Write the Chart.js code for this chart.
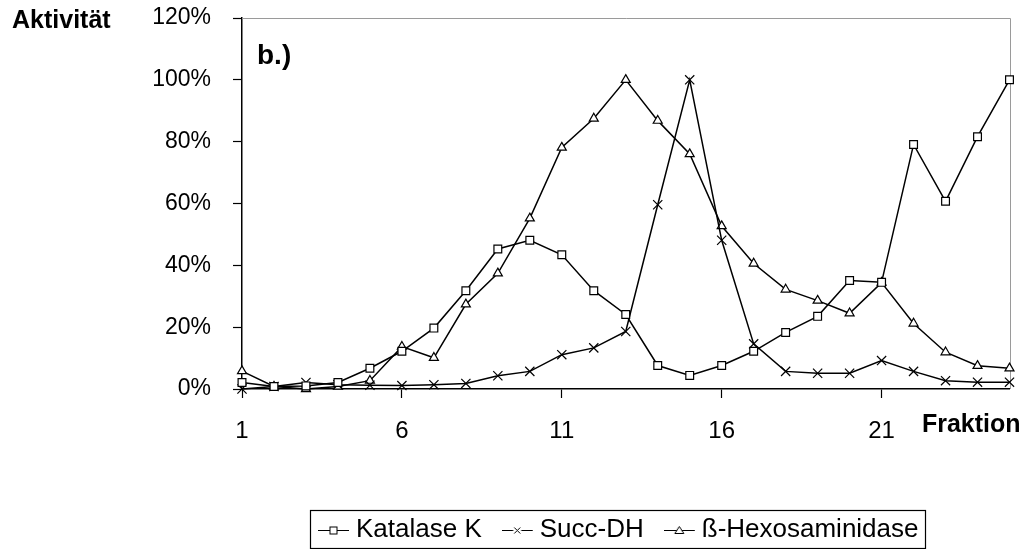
<!DOCTYPE html>
<html>
<head>
<meta charset="utf-8">
<title>Aktivität je Fraktion</title>
<script src="https://cdn.jsdelivr.net/npm/chart.js@4.4.1/dist/chart.umd.min.js"></script>
<style>
  html, body { margin: 0; padding: 0; background: #ffffff; }
  #wrap { width: 1028px; height: 549px; }
  canvas { display: block; }
</style>
</head>
<body>
<div id="wrap"><canvas id="chart" width="1028" height="549"></canvas></div>
<script>
// Fractions of the gradient (x axis) and the labelled ones
const fractions = [1, 2, 3, 4, 5, 6, 7, 8, 9, 10, 11, 12, 13, 14, 15, 16, 17, 18, 19, 20, 21, 22, 23, 24, 25];
const fractionTicks = [1, 6, 11, 16, 21];

// Activity axis ticks in percent of the maximum
const activityTicks = [0, 20, 40, 60, 80, 100, 120];

// Relative activities (% of maximum) per fraction
const katalaseK = [2.1, 0.8, 1.0, 2.1, 6.7, 12.2, 19.7, 31.8, 45.3, 48.1, 43.4, 31.8, 24.1, 7.6, 4.4, 7.6, 12.2, 18.3, 23.5, 35.1, 34.5, 79.1, 60.7, 81.6, 100];
const succDH = [0, 0.8, 2.1, 1.4, 1.2, 1.1, 1.4, 1.8, 4.3, 5.7, 11.1, 13.3, 18.6, 59.6, 100, 48.1, 14.6, 5.7, 5.1, 5.1, 9.2, 5.7, 2.7, 2.2, 2.2];
const hexosaminidase = [5.8, 0.8, 0, 0.8, 2.7, 13.7, 10.1, 27.4, 37.4, 55.2, 78.1, 87.5, 100, 86.8, 76.0, 52.7, 40.6, 32.2, 28.6, 24.5, 34.4, 21.2, 11.9, 7.5, 6.7];

const seriesNames = ['Katalase K', 'Succ-DH', 'ß-Hexosaminidase'];

const FONT = "'Liberation Sans', Arial, Helvetica, sans-serif";
Chart.defaults.font.family = FONT;
Chart.defaults.color = '#000';

// Legend symbol: short line with the series marker in the middle
function legendIcon(kind) {
  const c = document.createElement('canvas');
  c.width = 40; c.height = 16;
  const g = c.getContext('2d');
  const cy = 8.5, cx = 15.5;
  g.strokeStyle = '#000';
  g.lineWidth = 1;
  g.beginPath();
  if (kind === 'cross') {
    g.moveTo(0, cy); g.lineTo(11.5, cy);
    g.moveTo(19.5, cy); g.lineTo(31, cy);
  } else {
    g.moveTo(0, cy); g.lineTo(31, cy);
  }
  g.stroke();
  g.fillStyle = '#fff';
  if (kind === 'rect') {
    g.fillRect(cx - 3.5, cy - 3.5, 7, 7);
    g.strokeRect(cx - 3.5, cy - 3.5, 7, 7);
  } else if (kind === 'cross') {
    g.beginPath();
    g.moveTo(cx - 3, cy - 3); g.lineTo(cx + 3, cy + 3);
    g.moveTo(cx + 3, cy - 3); g.lineTo(cx - 3, cy + 3);
    g.stroke();
  } else {
    g.beginPath();
    g.moveTo(cx, cy - 4); g.lineTo(cx + 4.5, cy + 3); g.lineTo(cx - 4.5, cy + 3); g.closePath();
    g.fill(); g.stroke();
  }
  return c;
}
const legendIcons = [legendIcon('rect'), legendIcon('cross'), legendIcon('triangle')];

// Grey top/right frame of the plot area
const plotFrame = {
  id: 'plotFrame',
  beforeDatasetsDraw(chart) {
    const { ctx, chartArea: a } = chart;
    ctx.save();
    ctx.strokeStyle = '#9a9a9a';
    ctx.lineWidth = 1;
    ctx.beginPath();
    ctx.moveTo(a.left, Math.round(a.top) + 0.5);
    ctx.lineTo(Math.round(a.right) + 0.5, Math.round(a.top) + 0.5);
    ctx.lineTo(Math.round(a.right) + 0.5, a.bottom);
    ctx.stroke();
    ctx.restore();
  }
};

// Axis captions, panel letter and the frame around the legend
const captions = {
  id: 'captions',
  afterDraw(chart) {
    const { ctx, chartArea: a } = chart;
    ctx.save();
    ctx.fillStyle = '#000';
    ctx.textBaseline = 'alphabetic';

    ctx.font = 'bold 25px ' + FONT;
    ctx.textAlign = 'left';
    ctx.fillText('Aktivität', 12, 28);

    ctx.font = 'bold 28px ' + FONT;
    ctx.fillText('b.)', a.left + 15, a.top + 46);

    ctx.font = 'bold 25px ' + FONT;
    ctx.textAlign = 'right';
    ctx.fillText('Fraktion', a.right + 11, 432);

    const boxes = chart.legend && chart.legend.legendHitBoxes;
    if (boxes && boxes.length) {
      const first = boxes[0], last = boxes[boxes.length - 1];
      const cy = first.top + first.height / 2;
      const left = Math.round(first.left - 15 - 8) + 0.5;
      const right = Math.round(last.left + last.width + 6) + 0.5;
      const top = Math.round(cy - 20) + 0.5;
      const bottom = Math.round(cy + 18) + 0.5;
      ctx.strokeStyle = '#000';
      ctx.lineWidth = 1.2;
      ctx.strokeRect(left, top, right - left, bottom - top);
    }
    ctx.restore();
  }
};

const lineCommon = {
  borderColor: '#000',
  borderWidth: 1.5,
  tension: 0,
  fill: false,
  clip: false,
  pointBorderColor: '#000',
  pointBackgroundColor: '#fff',
  pointBorderWidth: 1.2,
  pointHoverRadius: 0
};

new Chart(document.getElementById('chart'), {
  type: 'line',
  data: {
    labels: fractions.map(String),
    datasets: [
      Object.assign({ label: seriesNames[0], data: katalaseK, pointStyle: 'rect', pointRadius: 5.5 }, lineCommon),
      Object.assign({ label: seriesNames[1], data: succDH, pointStyle: 'crossRot', pointRadius: 6.5 }, lineCommon),
      Object.assign({ label: seriesNames[2], data: hexosaminidase, pointStyle: 'triangle', pointRadius: 5.2 }, lineCommon)
    ]
  },
  options: {
    responsive: false,
    animation: false,
    events: [],
    devicePixelRatio: 1,
    layout: { padding: { top: 18, right: 14, bottom: -4, left: 0 } },
    scales: {
      x: {
        type: 'category',
        offset: false,
        afterFit(scale) { scale.height = 93; },
        ticks: {
          autoSkip: false,
          maxRotation: 0,
          minRotation: 0,
          padding: 18.5,
          color: '#000',
          font: { size: 24 },
          callback: (value, index) => fractionTicks.includes(fractions[index]) ? String(fractions[index]) : ''
        },
        grid: {
          drawOnChartArea: false,
          drawTicks: true,
          tickLength: 9,
          tickWidth: 1.2,
          tickColor: (ctx) => fractionTicks.includes(fractions[ctx.index]) ? '#000' : 'rgba(0,0,0,0)'
        },
        border: { display: true, color: '#000', width: 1.5 }
      },
      y: {
        min: 0,
        max: 120,
        afterBuildTicks(scale) { scale.ticks = activityTicks.map(v => ({ value: v })); },
        afterFit(scale) {
          scale.width = 242;
          // the plot frame is positioned by the layout padding alone
          scale.paddingTop = 0;
          scale.paddingBottom = 0;
        },
        ticks: {
          padding: 22,
          color: '#000',
          font: { size: 23 },
          callback: (v) => v + '%'
        },
        grid: {
          drawOnChartArea: false,
          drawTicks: true,
          tickLength: 9,
          tickWidth: 1.2,
          tickColor: '#000'
        },
        border: { display: true, color: '#000', width: 1.5 }
      }
    },
    plugins: {
      tooltip: { enabled: false },
      title: { display: false },
      legend: {
        display: true,
        position: 'bottom',
        fullSize: false,
        align: 'center',
        labels: {
          usePointStyle: true,
          pointStyleWidth: 10,
          padding: 35,
          color: '#000',
          font: { size: 26 },
          generateLabels(chart) {
            const items = Chart.defaults.plugins.legend.labels.generateLabels(chart);
            items.forEach((it, i) => { it.pointStyle = legendIcons[i]; it.fontColor = '#000'; });
            return items;
          }
        }
      }
    }
  },
  plugins: [plotFrame, captions]
});
</script>
</body>
</html>
